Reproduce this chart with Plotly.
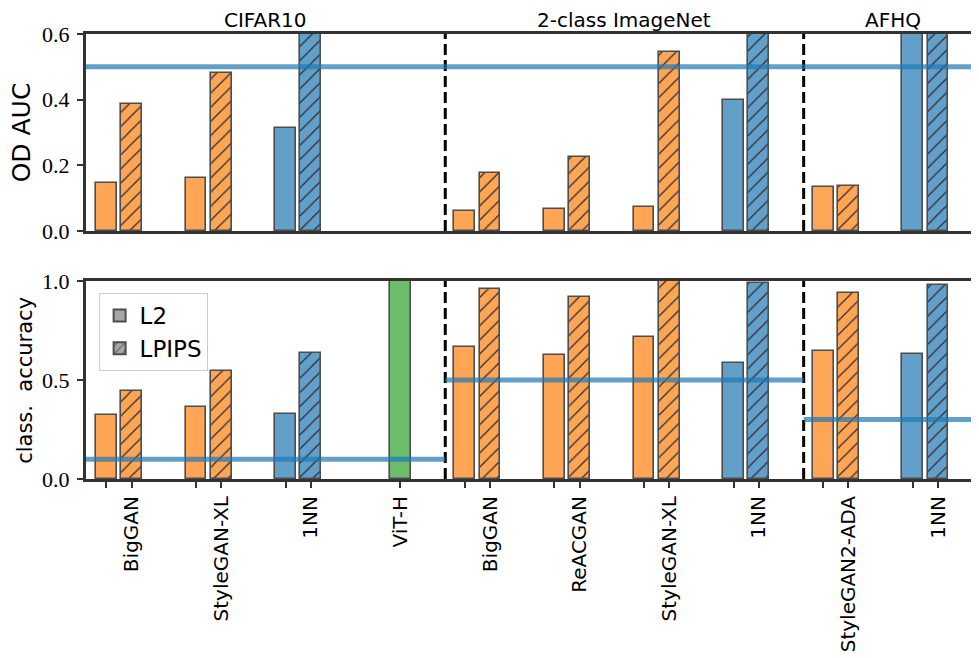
import plotly.graph_objects as go
from plotly.subplots import make_subplots

# ---------------- data ----------------
categories = ["BigGAN", "StyleGAN-XL", "1NN", "ViT-H",
              "BigGAN", "ReACGAN", "StyleGAN-XL", "1NN",
              "StyleGAN2-ADA", "1NN"]
method_kind = ["gan", "gan", "nn", "vit", "gan", "gan", "gan", "nn", "gan", "nn"]

# OD AUC (top panel); values above 0.6 are clipped in the reference
l2_auc = [0.147, 0.160, 0.313, None, 0.061, 0.066, 0.073, 0.400, 0.133, 0.70]
lpips_auc = [0.387, 0.481, 0.70, None, 0.177, 0.224, 0.546, 0.70, 0.138, 0.70]

# classification accuracy (bottom panel)
l2_acc = [0.323, 0.365, 0.327, None, 0.668, 0.628, 0.719, 0.587, 0.648, 0.631]
lpips_acc = [0.446, 0.545, 0.636, None, 0.958, 0.918, 1.0, 0.99, 0.939, 0.978]
vit_acc = [None, None, None, 1.0, None, None, None, None, None, None]

datasets = ["CIFAR10", "2-class ImageNet", "AFHQ"]
dataset_groups = [(0, 3), (4, 7), (8, 9)]   # first / last group index
auc_chance = 0.5
acc_chance = [0.1, 0.5, 0.3]

# ---------------- style ----------------
COL = {"gan": "#ffa556", "nn": "#62a0ca", "vit": "#6bbc6b"}
EDGE = "#4d4d4d"
HATCH = "#2a2a2a"
SPINE = "#333333"
SANS = "DejaVu Sans"
SERIF = "Liberation Serif"

OFF = 0.283        # offset of the LPIPS bar from the L2 bar
BW = 0.232         # bar width
X0, X1 = -0.2266, 9.829

pos = list(range(len(categories)))

fig = make_subplots(rows=2, cols=1)


def pick(vals, kind):
    return [v if k == kind else None for v, k in zip(vals, method_kind)]


def add_bars(row, l2, lp):
    for kind in ("gan", "nn"):
        c = COL[kind]
        fig.add_trace(go.Bar(x=pos, y=pick(l2, kind), width=BW,
                             marker=dict(color=c, line=dict(color=EDGE, width=1.6)),
                             showlegend=False, hoverinfo="skip"), row=row, col=1)
        fig.add_trace(go.Bar(x=[p + OFF for p in pos], y=pick(lp, kind), width=BW,
                             marker=dict(color=c, line=dict(color=EDGE, width=1.6),
                                         pattern=dict(shape="/", size=10, solidity=0.12,
                                                      fgcolor=HATCH, bgcolor=c, fillmode="replace")),
                             showlegend=False, hoverinfo="skip"), row=row, col=1)


add_bars(1, l2_auc, lpips_auc)
add_bars(2, l2_acc, lpips_acc)
fig.add_trace(go.Bar(x=[p + OFF for p in pos], y=vit_acc, width=BW,
                     marker=dict(color=COL["vit"], line=dict(color=EDGE, width=1.6)),
                     showlegend=False, hoverinfo="skip"), row=2, col=1)

# legend entries
GRAY = "#a6a6a6"
fig.add_trace(go.Bar(x=[None], y=[None], name="L2",
                     marker=dict(color=GRAY, line=dict(color=EDGE, width=1.6))), row=2, col=1)
fig.add_trace(go.Bar(x=[None], y=[None], name="LPIPS",
                     marker=dict(color=GRAY, line=dict(color=EDGE, width=1.6),
                                 pattern=dict(shape="/", size=7, solidity=0.15, fgcolor=HATCH,
                                              bgcolor=GRAY, fillmode="replace"))), row=2, col=1)

shapes = []
bounds = [X0] + [dataset_groups[i][1] + OFF + 0.5 for i in range(len(dataset_groups) - 1)] + [X1]
for b in bounds[1:-1]:
    for xr, yr, ytop in (("x", "y", 0.6), ("x2", "y2", 1.0)):
        shapes.append(dict(type="line", xref=xr, yref=yr, x0=b, x1=b, y0=0, y1=ytop,
                           line=dict(color="black", width=3, dash="11px,5px")))
shapes.append(dict(type="line", xref="x", yref="y", x0=X0, x1=X1, y0=auc_chance, y1=auc_chance,
                   line=dict(color="rgba(31,119,180,0.7)", width=5)))
for i, c in enumerate(acc_chance):
    shapes.append(dict(type="line", xref="x2", yref="y2", x0=bounds[i], x1=bounds[i + 1], y0=c, y1=c,
                       line=dict(color="rgba(31,119,180,0.7)", width=5)))

annotations = []
title_x = [1.78, 5.78, 8.78]
for name, tx in zip(datasets, title_x):
    annotations.append(dict(text=name, xref="x", yref="paper", x=tx,
                            y=1.031, showarrow=False, xanchor="center", yanchor="middle",
                            font=dict(family=SANS, size=20, color="black")))
annotations.append(dict(text="OD AUC", xref="paper", yref="paper", x=-0.0715, y=0.778, textangle=-90,
                        showarrow=False, xanchor="center", yanchor="middle",
                        font=dict(family=SANS, size=25, color="black")))
annotations.append(dict(text="class.  accuracy", xref="paper", yref="paper", x=-0.067, y=0.222, textangle=-90,
                        showarrow=False, xanchor="center", yanchor="middle",
                        font=dict(family=SANS, size=21, color="black")))

tickvals = []
ticktext = []
for p, k, name in zip(pos, method_kind, categories):
    if k == "vit":
        tickvals.append(p + OFF); ticktext.append(name)
    else:
        tickvals += [p, p + OFF]; ticktext += ["", name]

axis_common = dict(showline=True, linecolor=SPINE, linewidth=3, showgrid=False, zeroline=False)

fig.update_layout(
    width=979, height=658,
    margin=dict(l=78, r=0, t=26, b=187),
    paper_bgcolor="white", plot_bgcolor="white",
    barmode="overlay", bargap=0,
    shapes=shapes, annotations=annotations,
    legend=dict(x=0.014, y=0.418, xanchor="left", yanchor="top",
                bgcolor="rgba(255,255,255,0.8)", bordercolor="#cccccc", borderwidth=1,
                font=dict(family=SANS, size=23, color="black"), tracegroupgap=0,
                itemsizing="constant"),
    xaxis=dict(domain=[0, 1], range=[X0, X1], mirror=True, showticklabels=False, ticks="",
               anchor="y", **axis_common),
    yaxis=dict(domain=[0.5573, 1], range=[0, 0.6], tickvals=[0, 0.2, 0.4, 0.6],
               ticktext=["0.0", "0.2", "0.4", "0.6"], ticks="outside", ticklen=6, tickwidth=1.5,
               tickcolor=SPINE, tickfont=dict(family=SERIF, size=22, color="black"),
               ticklabelstandoff=3, anchor="x", **axis_common),
    xaxis2=dict(domain=[0, 1], range=[X0, X1], mirror=True, tickvals=tickvals, ticktext=ticktext,
                tickangle=-90, ticks="outside", ticklen=6, tickwidth=1.5, tickcolor=SPINE,
                tickfont=dict(family=SANS, size=20, color="black"), anchor="y2", **axis_common),
    yaxis2=dict(domain=[0, 0.4449], range=[0, 1.0], tickvals=[0, 0.5, 1.0],
                ticktext=["0.0", "0.5", "1.0"], ticks="outside", ticklen=6, tickwidth=1.5,
                tickcolor=SPINE, tickfont=dict(family=SERIF, size=22, color="black"),
                ticklabelstandoff=3, anchor="x2", **axis_common),
)

fig.write_html("out.html")
